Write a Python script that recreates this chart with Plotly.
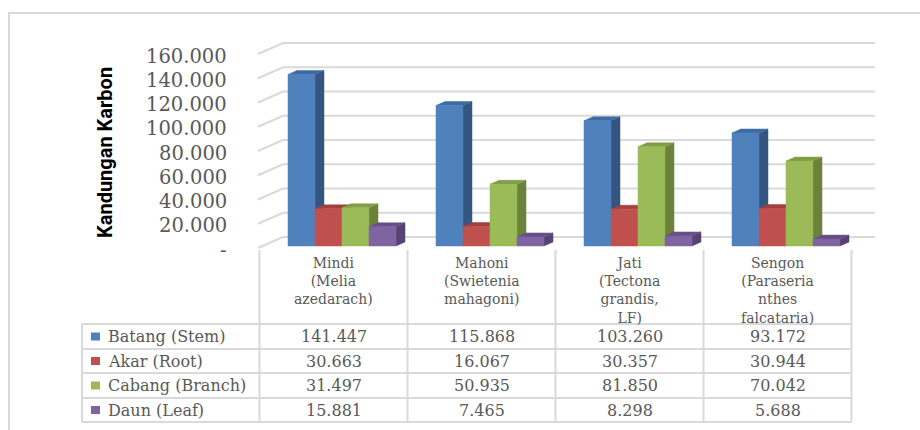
import plotly.graph_objects as go

# ---- data -------------------------------------------------------------
categories = ["Mindi", "Mahoni", "Jati", "Sengon"]
category_labels = [
    ["Mindi", "(Melia", "azedarach)"],
    ["Mahoni", "(Swietenia", "mahagoni)"],
    ["Jati", "(Tectona", "grandis,", "LF)"],
    ["Sengon", "(Paraseria", "nthes", "falcataria)"],
]
series_names = ["Batang (Stem)", "Akar (Root)", "Cabang (Branch)", "Daun (Leaf)"]
batang = [141.447, 115.868, 103.260, 93.172]
akar = [30.663, 16.067, 30.357, 30.944]
cabang = [31.497, 50.935, 81.850, 70.042]
daun = [15.881, 7.465, 8.298, 5.688]
y_ticks = [0, 20, 40, 60, 80, 100, 120, 140, 160]
y_tick_text = ["-", "20.000", "40.000", "60.000", "80.000",
               "100.000", "120.000", "140.000", "160.000"]
y_title = "Kandungan Karbon"

series_values = [batang, akar, cabang, daun]
# front, top, side shades of each series
series_colors = [
    ("#4F81BD", "#3D6CA5", "#34557F"),
    ("#C0504D", "#A3403D", "#8A3634"),
    ("#9BBB59", "#819D47", "#6B823B"),
    ("#8064A2", "#67508A", "#574373"),
]

# ---- geometry (canvas 920 x 430) ----------------------------------------
W, H = 920, 430
CAT_W = 148.0        # pixel width of one category slot
CAT0 = 333.5         # pixel x of first category centre
PPU = 1.2125         # pixels per data unit
ZERO_PY = 246.0      # pixel y of value 0 on the bar front plane


def ux(px):
    return (px - CAT0) / CAT_W


def vy(py):
    return (ZERO_PY - py) / PPU


def py_paper(py):
    return 1 - py / H


BAR_W = 27 / CAT_W
BAR_START = ux(288)              # left edge of first bar, relative to its category
DEPTH_U = 9 / CAT_W
DEPTH_V = 4 / PPU

GRID = "#D9D9D9"
TEXT = "#595959"
SERIF = "DejaVu Serif, Liberation Serif, serif"

fig = go.Figure()

# ---- back wall gridlines and side wall diagonals -----------------------
back_u0, back_u1 = ux(283), ux(875)
back_dv = vy(237)
front_u, front_dv = ux(258), vy(248)
gx, gy = [], []
for t in y_ticks:
    gx += [front_u, back_u0, back_u1, None]
    gy += [t + front_dv, t + back_dv, t + back_dv, None]
fig.add_trace(go.Scatter(x=gx, y=gy, mode="lines",
                         line=dict(color=GRID, width=2),
                         hoverinfo="skip", showlegend=False))

# ---- 3D columns: side, top, front per series ---------------------------
for k, (name, vals, cols) in enumerate(zip(series_names, series_values, series_colors)):
    front_c, top_c, side_c = cols
    sx, sy, tx, ty, fx, fy = [], [], [], [], [], []
    for i, v in enumerate(vals):
        x0 = i + BAR_START + k * BAR_W
        x1 = x0 + BAR_W
        # right side face
        sx += [x1, x1 + DEPTH_U, x1 + DEPTH_U, x1, x1, None]
        sy += [0, DEPTH_V, v + DEPTH_V, v, 0, None]
        # top face
        tx += [x0, x0 + DEPTH_U, x1 + DEPTH_U, x1, x0, None]
        ty += [v, v + DEPTH_V, v + DEPTH_V, v, v, None]
        # front face
        fx += [x0, x1, x1, x0, x0, None]
        fy += [0, 0, v, v, 0, None]
    for xs, ys, c in ((sx, sy, side_c), (tx, ty, top_c), (fx, fy, front_c)):
        fig.add_trace(go.Scatter(x=xs, y=ys, mode="lines", fill="toself",
                                 fillcolor=c, line=dict(color=c, width=0.5),
                                 name=name, hoverinfo="skip", showlegend=False))

annotations = []
shapes = []

# ---- y tick labels -----------------------------------------------------
for t, txt in zip(y_ticks, y_tick_text):
    annotations.append(dict(x=ux(229), y=t + front_dv - 1.65, xref="x", yref="y",
                            text=txt, showarrow=False, xanchor="right",
                            yanchor="middle",
                            font=dict(family=SERIF, size=19.5, color=TEXT)))

# ---- y axis title ------------------------------------------------------
annotations.append(dict(x=105 / W, y=py_paper(153), xref="paper", yref="paper",
                        text=y_title, showarrow=False, textangle=-90,
                        xanchor="center", yanchor="middle",
                        font=dict(family="Roboto, sans-serif",
                                  size=20, color="#000000", weight="bold")))

# ---- data table ----------------------------------------------------------
row_lines = [324, 349, 373, 398, 422]
table_left = 82
table_right = CAT0 + 3.5 * CAT_W
header_top = 250
line_style = dict(color=GRID, width=2)

for py in row_lines:
    shapes.append(dict(type="line", xref="paper", yref="paper",
                       x0=table_left / W, x1=table_right / W,
                       y0=py_paper(py), y1=py_paper(py), line=line_style))
shapes.append(dict(type="line", xref="paper", yref="paper",
                   x0=table_left / W, x1=table_left / W,
                   y0=py_paper(row_lines[0]), y1=py_paper(row_lines[-1]),
                   line=line_style))
for b in range(len(categories) + 1):
    shapes.append(dict(type="line", xref="x", yref="paper",
                       x0=b - 0.5, x1=b - 0.5,
                       y0=py_paper(header_top), y1=py_paper(row_lines[-1]),
                       line=line_style))

# category headers (wrapped names)
for i, lines in enumerate(category_labels):
    annotations.append(dict(x=i, y=py_paper(254), xref="x", yref="paper",
                            text="<br>".join(lines), showarrow=False,
                            xanchor="center", yanchor="top", align="center",
                            borderpad=0,
                            font=dict(family=SERIF, size=14, color=TEXT)))

# rows: legend key, series name, values
for k, (name, vals, cols) in enumerate(zip(series_names, series_values, series_colors)):
    cy = (row_lines[k] + row_lines[k + 1]) / 2
    shapes.append(dict(type="rect", xref="paper", yref="paper",
                       x0=91 / W, x1=100 / W,
                       y0=py_paper(cy + 4), y1=py_paper(cy - 4),
                       fillcolor=cols[0], line=dict(width=0)))
    annotations.append(dict(x=106 / W, y=py_paper(cy), xref="paper", yref="paper",
                            text=name, showarrow=False, xanchor="left",
                            yanchor="middle",
                            font=dict(family=SERIF, size=16, color=TEXT)))
    for i, v in enumerate(vals):
        annotations.append(dict(x=i, y=py_paper(cy), xref="x", yref="paper",
                                text=f"{v:.3f}", showarrow=False, xanchor="center",
                                yanchor="middle",
                                font=dict(family=SERIF, size=16, color=TEXT)))

# chart area border
shapes.append(dict(type="rect", xref="paper", yref="paper",
                   x0=9 / W, x1=1.02, y0=-0.02, y1=py_paper(13),
                   line=dict(color=GRID, width=2), fillcolor="rgba(0,0,0,0)"))

fig.update_layout(
    width=W, height=H,
    margin=dict(l=0, r=0, t=0, b=0),
    paper_bgcolor="white", plot_bgcolor="white",
    showlegend=False,
    xaxis=dict(range=[ux(0), ux(W)], visible=False, fixedrange=True),
    yaxis=dict(range=[vy(H), vy(0)], visible=False, fixedrange=True),
    annotations=annotations,
    shapes=shapes,
)

fig.write_html("out.html")
